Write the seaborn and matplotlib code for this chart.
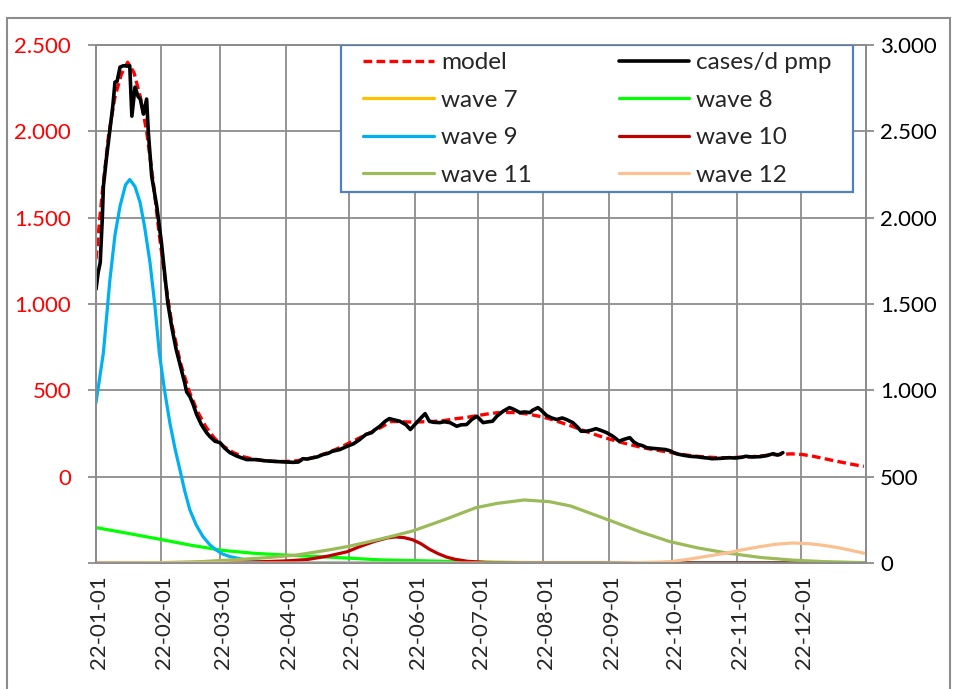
import pandas as pd
import matplotlib
matplotlib.use("Agg")
import matplotlib.pyplot as plt
import matplotlib.dates as mdates
import matplotlib.transforms as mtransforms
from matplotlib.patches import Rectangle
from matplotlib.ticker import FuncFormatter, MultipleLocator
import seaborn as sns

sns.set_style("white")
plt.rcParams['font.family'] = ['Lato', 'DejaVu Sans']

start = pd.Timestamp("2022-01-01")

# daily cases per million (left axis)
case_days = [0, 1, 2, 3, 3.5, 5, 6.6, 8, 9, 10, 11.4, 13, 15, 16, 17, 18.5, 20, 21, 22.5, 24, 24.8,
             26.4, 28.8, 31, 32.5, 34, 36, 38, 40, 42, 43, 44.5, 46, 47.7, 50, 52.4, 54, 56.4, 58.8,
             61, 63.5, 67, 71.4, 76, 80, 84, 88, 93.5, 96, 98, 100, 103, 105, 107.6, 110, 112, 115.6,
             119, 122, 125, 128, 130.7, 132, 134.6, 137, 139, 141, 144, 147, 149, 152, 154, 156, 158,
             160, 163, 165, 167.8, 171, 173, 175.7, 178, 180.5, 183.5, 186, 188, 190, 193, 196, 198,
             201, 203, 205.7, 207, 209.5, 211, 213.6, 216, 218.4, 221, 223, 226, 228, 230, 232.5, 235,
             237, 240, 242, 245, 248, 250, 253, 255, 257, 259, 261, 263, 265.7, 268, 270, 272, 275,
             278, 281.5, 285, 288, 290, 292, 296, 300, 303, 306, 308, 311, 315, 318, 321, 323, 324, 325.6]
case_vals = [1085, 1180, 1240, 1500, 1680, 1850, 2010, 2150, 2285, 2290, 2372, 2380, 2378, 2380, 2088,
             2256, 2200, 2187, 2100, 2187, 1995, 1740, 1566, 1357, 1180, 1009, 860, 737, 640, 545, 490,
             464, 420, 360, 300, 255, 232, 205, 197, 165, 139, 118, 99, 99, 92, 89, 86, 83, 85, 104,
             102, 110, 115, 128, 135, 147, 157, 176, 190, 215, 245, 255, 270, 292, 320, 336, 330, 321,
             300, 273, 313, 340, 365, 321, 315, 313, 318, 313, 292, 300, 302, 330, 350, 313, 318, 321,
             350, 379, 400, 390, 371, 375, 371, 385, 400, 385, 354, 340, 331, 340, 331, 313, 290, 263,
             263, 270, 278, 265, 255, 234, 205, 215, 226, 200, 186, 180, 168, 165, 162, 160, 157, 150,
             133, 125, 118, 115, 110, 108, 104, 106, 110, 108, 112, 118, 114, 116, 122, 133, 125, 128, 139]

# model (left axis)
model_days = [0, 3, 6, 9, 12, 15, 18, 21, 24, 27, 30, 33, 36, 40, 44, 48, 52, 56, 60, 65, 70, 75, 80,
              85, 90, 95, 100, 105, 110, 115, 120, 125, 130, 135, 140, 145, 150, 155, 160, 165, 170,
              175, 180, 185, 190, 195, 200, 205, 210, 215, 220, 225, 230, 235, 240, 245, 250, 255,
              260, 265, 270, 275, 280, 285, 290, 295, 300, 305, 310, 315, 320, 325, 330, 335, 340,
              345, 350, 355, 360, 364]
model_vals = [1260, 1650, 1980, 2200, 2330, 2400, 2340, 2200, 2000, 1720, 1400, 1120, 880, 660, 500,
              380, 290, 225, 180, 140, 115, 100, 92, 88, 88, 92, 102, 118, 140, 165, 195, 225, 255,
              285, 320, 318, 316, 318, 320, 325, 335, 342, 352, 362, 370, 372, 370, 362, 350, 335,
              315, 295, 272, 250, 230, 212, 195, 180, 166, 155, 145, 135, 125, 118, 113, 110, 110,
              112, 115, 120, 126, 130, 132, 128, 118, 105, 92, 80, 68, 60]

# waves (right axis)
wave7_days = [0, 120, 240, 364]
wave7_vals = [0, 0, 0, 0]
wave8_days = [0, 15, 30, 45, 60, 75, 90, 105, 120, 135, 150, 165, 180, 200, 220, 250, 300, 364]
wave8_vals = [205, 172, 138, 103, 73, 56, 46, 37, 28, 18, 14, 10, 6, 3, 2, 1, 0, 0]
wave9_days = [0, 3.5, 6.6, 9, 11.4, 14, 16, 18.5, 20.9, 23, 25.6, 28, 30, 32.5, 35, 37.5, 39.8, 42,
              44.5, 47.5, 50.7, 54, 57, 60, 63.5, 70, 80, 90, 120, 364]
wave9_vals = [928, 1218, 1641, 1900, 2067, 2190, 2221, 2180, 2088, 1950, 1740, 1480, 1218, 1000, 812,
              660, 539, 420, 307, 220, 153, 105, 75, 52, 37, 20, 6, 2, 0, 0]
wave10_days = [0, 70, 80, 90, 100, 110, 119, 125, 132, 138, 142, 146, 150, 154, 158, 162, 166, 170,
               176, 185, 200, 364]
wave10_vals = [0, 2, 8, 12, 20, 40, 65, 95, 125, 145, 151, 147, 135, 112, 80, 55, 35, 22, 10, 3, 0, 0]
wave11_days = [0, 30, 50, 63, 80, 95, 110, 120, 135, 150, 165, 180, 190, 203, 215, 225, 235, 245, 258,
               272, 285, 299, 315, 330, 345, 364]
wave11_vals = [0, 2, 8, 17, 30, 46, 75, 97, 139, 185, 250, 320, 345, 365, 355, 330, 285, 240, 180, 124,
               88, 58, 32, 17, 8, 2]
wave12_days = [0, 240, 255, 265, 272, 280, 290, 299, 307, 315, 322, 330, 338, 345, 352, 358, 364]
wave12_vals = [0, 0, 2, 4, 8, 20, 40, 58, 78, 95, 108, 116, 112, 102, 88, 73, 57]


def to_dates(days):
    return start + pd.to_timedelta(days, unit="D")


def thousands(v, pos):
    if v < 0:
        return ""
    return f"{int(round(v)):,}".replace(",", ".")


fig = plt.figure(figsize=(9.54, 6.89), dpi=100)
ax = fig.add_axes([96 / 954, 1 - 563 / 689, 770 / 954, 518 / 689])
ax2 = ax.twinx()

waves = [
    ("wave 7", wave7_days, wave7_vals, "#FFC000"),
    ("wave 8", wave8_days, wave8_vals, "#00FF00"),
    ("wave 9", wave9_days, wave9_vals, "#00B0F0"),
    ("wave 10", wave10_days, wave10_vals, "#C00000"),
    ("wave 11", wave11_days, wave11_vals, "#9BBB59"),
    ("wave 12", wave12_days, wave12_vals, "#FAC090"),
]

sns.lineplot(x=to_dates(model_days), y=model_vals, ax=ax, color="#FF0000", lw=2.4,
             linestyle=(0, (2.6, 1.3)), label="model")
sns.lineplot(x=to_dates(case_days), y=case_vals, ax=ax, color="black", lw=2.6, label="cases/d pmp")
for name, d, v, c in waves:
    sns.lineplot(x=to_dates(d), y=v, ax=ax2, color=c, lw=2.3, label=name)

ax.set_ylim(-500, 2500)
ax2.set_ylim(0, 3000)
ax.set_xlim(start, pd.Timestamp("2023-01-01"))
ax.yaxis.set_major_locator(MultipleLocator(500))
ax2.yaxis.set_major_locator(MultipleLocator(500))
ax.yaxis.set_major_formatter(FuncFormatter(thousands))
ax2.yaxis.set_major_formatter(FuncFormatter(thousands))
ax.xaxis.set_major_locator(mdates.MonthLocator())
ax.xaxis.set_major_formatter(mdates.DateFormatter("%y-%m-%d"))

grid_col = "#8C8C8C"
ax.grid(True, color=grid_col, lw=1.3)
ax.set_axisbelow(True)
for a in (ax, ax2):
    for s in a.spines.values():
        s.set_color(grid_col)
        s.set_linewidth(1.3)

ax.tick_params(axis="y", labelcolor="#FF0000", labelsize=16, direction="out", length=6,
               width=1.3, color=grid_col, pad=12)
ax2.tick_params(axis="y", labelcolor="black", labelsize=16, direction="out", length=6,
                width=1.3, color=grid_col, pad=4)
ax.tick_params(axis="x", labelsize=16, rotation=90, length=0, pad=9)
shift = mtransforms.ScaledTranslation(3 / 100, 0, fig.dpi_scale_trans)
for i, lab in enumerate(ax.get_xticklabels()):
    lab.set_transform(lab.get_transform() + shift)
    if i >= 12:
        lab.set_visible(False)
ax.set_xlabel("")
ax.set_ylabel("")
ax2.set_ylabel("")

h1, l1 = ax.get_legend_handles_labels()
h2, l2 = ax2.get_legend_handles_labels()
ax.get_legend().remove()
ax2.get_legend().remove()
handles = h1 + h2
names = l1 + l2
# rows: model|cases, w7|w8, w9|w10, w11|w12
order = [0, 2, 4, 6, 1, 3, 5, 7]

box = Rectangle((0.318, 0.716), 0.665, 0.284, transform=ax2.transAxes, facecolor="white",
                edgecolor="#4F81BD", lw=1.6, zorder=8)
ax2.add_patch(box)
leg = ax2.legend([handles[i] for i in order], [names[i] for i in order], ncol=2,
                 loc="upper left", bbox_to_anchor=(0.3468, 0.73, 0.609, 0.256), mode="expand",
                 fontsize=17.5, handlelength=2.9, handletextpad=0.3, labelspacing=0.68,
                 frameon=False, borderpad=0, borderaxespad=0)
leg.set_zorder(10)

fig.patches.append(Rectangle((7 / 954, -0.1), 943 / 954, 1.1 - 18 / 689, transform=fig.transFigure,
                             fill=False, edgecolor="#8C8C8C", lw=1.5))

fig.savefig("out.png", dpi=100)
